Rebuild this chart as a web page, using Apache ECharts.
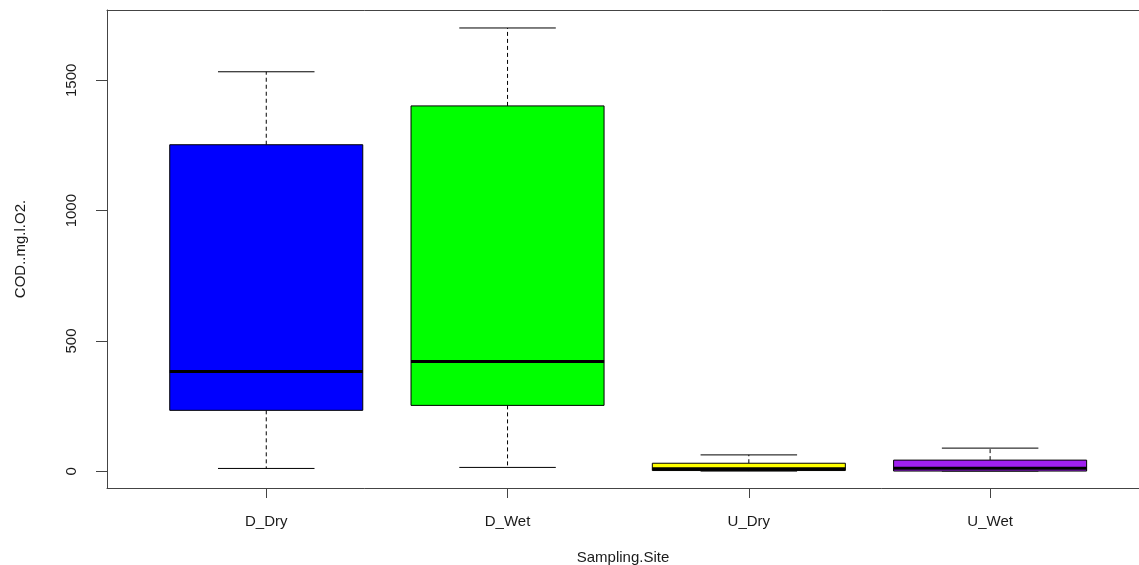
<!DOCTYPE html>
<html>
<head>
<meta charset="utf-8">
<script src="https://cdn.jsdelivr.net/npm/echarts@6/dist/echarts.min.js"></script>
<style>html,body{margin:0;padding:0;background:#fff;}#c{width:1139px;height:565px;}</style>
</head>
<body>
<div id="c"></div>
<script>
const categories = ['D_Dry', 'D_Wet', 'U_Dry', 'U_Wet'];
const mins    = [11, 15, 1, 1];
const q1s     = [234, 253, 3, 1];
const medians = [383, 421, 10, 12];
const q3s     = [1253, 1402, 31, 43];
const maxs    = [1533, 1701, 63, 89];
const yTicks  = [0, 500, 1000, 1500];
const boxColors = ['#0000FF', '#00FF00', '#FFFF00', '#A020F0'];

const data = categories.map((c, i) => [i + 1, mins[i], q1s[i], medians[i], q3s[i], maxs[i]]);
const font = "'Liberation Sans', Arial, sans-serif";
const txt = '#1a1a1a';
const axisCol = '#444';

const chart = echarts.init(document.getElementById('c'), null, {renderer: 'canvas'});
chart.setOption({
  animation: false,
  backgroundColor: '#fff',
  grid: {left: 107, top: 10, right: 0, bottom: 77, show: false, containLabel: false, outerBoundsMode: 'none'},
  xAxis: [{
    type: 'value', min: 0.34, max: 4.617,
    name: 'Sampling.Site', nameLocation: 'middle', nameGap: 62,
    nameTextStyle: {fontFamily: font, fontSize: 15, color: txt},
    axisLine: {show: true, onZero: false, lineStyle: {color: axisCol, width: 1}},
    axisTick: {show: true, length: 10, customValues: [1, 2, 3, 4], lineStyle: {color: axisCol}},
    axisLabel: {customValues: [1, 2, 3, 4], margin: 26, fontFamily: font, fontSize: 15, color: txt,
      formatter: v => categories[Math.round(v) - 1] || ''},
    splitLine: {show: false}
  }, {
    type: 'value', min: 0.34, max: 4.617, position: 'top',
    axisLine: {show: true, onZero: false, lineStyle: {color: axisCol, width: 1}},
    axisTick: {show: false}, axisLabel: {show: false}, splitLine: {show: false}
  }],
  yAxis: {
    type: 'value', min: -64, max: 1770,
    name: 'COD..mg.l.O2.', nameLocation: 'middle', nameGap: 79, nameRotate: 90,
    nameTextStyle: {fontFamily: font, fontSize: 15, color: txt},
    axisLine: {show: true, onZero: false, lineStyle: {color: axisCol, width: 1}},
    axisTick: {show: true, length: 11, customValues: yTicks, lineStyle: {color: axisCol}},
    axisLabel: {customValues: yTicks, rotate: 90, margin: 28, fontFamily: font, fontSize: 15, color: txt,
      formatter: v => String(v)},
    splitLine: {show: false}
  },
  series: [{
    type: 'custom',
    xAxisIndex: 0,
    data: data,
    encode: {x: 0, y: [1, 2, 3, 4, 5]},
    renderItem: function (params, api) {
      const x = api.value(0);
      const mn = api.value(1), q1 = api.value(2), md = api.value(3), q3 = api.value(4), mx = api.value(5);
      const L = api.coord([x - 0.4, q3]), R = api.coord([x + 0.4, q1]);
      const cx = api.coord([x, 0])[0];
      const capL = api.coord([x - 0.2, 0])[0], capR = api.coord([x + 0.2, 0])[0];
      const yMin = api.coord([x, mn])[1], yMax = api.coord([x, mx])[1];
      const yMed = api.coord([x, md])[1];
      const idx = params.dataIndex;
      const line = (x1, y1, x2, y2, w, dash) => ({
        type: 'line', shape: {x1, y1, x2, y2},
        style: {stroke: '#000', lineWidth: w, lineDash: dash || null}
      });
      return {
        type: 'group',
        children: [
          line(cx, L[1], cx, yMax, 1, [4, 3]),
          line(cx, R[1], cx, yMin, 1, [4, 3]),
          line(capL, yMax, capR, yMax, 1),
          line(capL, yMin, capR, yMin, 1),
          {type: 'rect', shape: {x: L[0], y: L[1], width: R[0] - L[0], height: R[1] - L[1]},
            style: {fill: boxColors[idx], stroke: '#000', lineWidth: 1}},
          line(L[0], yMed, R[0], yMed, 3)
        ]
      };
    }
  }]
});
</script>
</body>
</html>
